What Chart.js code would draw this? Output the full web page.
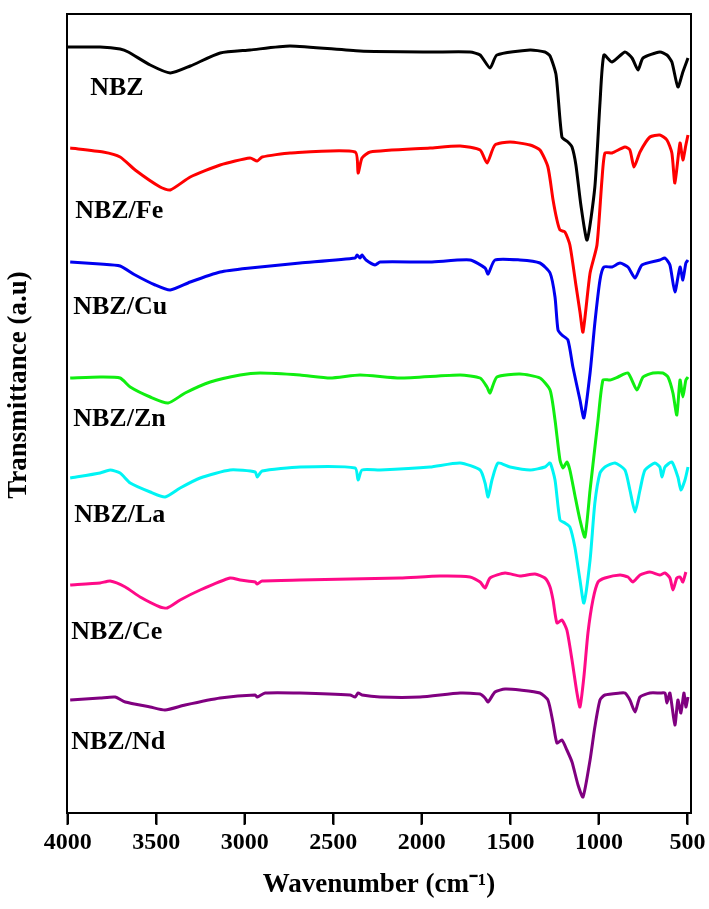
<!DOCTYPE html>
<html><head><meta charset="utf-8">
<script src="https://cdn.jsdelivr.net/npm/chart.js@4.4.1/dist/chart.umd.min.js"></script>
<style>html,body{margin:0;padding:0;background:#fff}#wrap{width:709px;height:909px;position:relative}</style>
</head><body><div id="wrap"><canvas id="c"></canvas></div>
<script>
// Wavenumber tick labels (cm-1)
const xTicks = [4000, 3500, 3000, 2500, 2000, 1500, 1000, 500];
const seriesNames = ['NBZ', 'NBZ/Fe', 'NBZ/Cu', 'NBZ/Zn', 'NBZ/La', 'NBZ/Ce', 'NBZ/Nd'];

// [wavenumber, transmittance (offset, a.u.)]
const nbz = [[4000,766],[3817,766],[3704,764],[3658,761],[3534,748],[3421,740],[3308,747],[3139,760],[2970,763],[2744,767],[2349,762],[1954,761],[1728,761],[1671,758],[1615,745],[1576,758],[1389,763],[1305,761],[1276,757],[1242,738],[1209,676],[1175,671],[1152,666],[1130,648],[1102,608],[1067,573],[1023,626],[994,710],[972,758],[926,751],[853,761],[813,755],[779,743],[751,755],[656,761],[616,758],[588,751],[554,726],[526,741],[497,755]];
const nbzFe = [[3986,665],[3800,661],[3704,656],[3619,643],[3478,626],[3421,623],[3308,636],[3139,648],[2970,655],[2930,652],[2902,656],[2744,660],[2377,661],[2360,640],[2338,655],[2292,661],[1954,665],[1784,667],[1671,663],[1632,650],[1587,668],[1502,671],[1389,668],[1333,663],[1288,646],[1259,613],[1237,593],[1220,583],[1192,581],[1164,568],[1130,528],[1107,501],[1090,481],[1050,540],[1011,568],[983,633],[966,660],[926,660],[853,666],[825,663],[802,646],[768,661],[712,676],[656,678],[616,673],[588,660],[571,630],[542,670],[526,653],[509,668],[497,678]];
const nbzCu = [[3986,551],[3817,549],[3704,547],[3619,538],[3506,528],[3421,523],[3308,531],[3139,541],[2970,545],[2744,549],[2688,550],[2377,555],[2366,558],[2349,555],[2338,558],[2315,553],[2264,548],[2236,551],[1954,551],[1728,553],[1643,545],[1626,539],[1587,553],[1446,553],[1333,550],[1276,540],[1248,516],[1231,483],[1209,478],[1175,473],[1147,446],[1107,413],[1085,395],[1050,440],[1023,490],[994,533],[972,546],[926,546],[881,550],[836,546],[796,535],[757,548],[656,553],[627,555],[599,548],[571,521],[542,546],[526,533],[509,550],[497,553]];
const nbzZn = [[3986,435],[3817,436],[3704,435],[3647,426],[3534,416],[3433,410],[3337,420],[3195,431],[3026,438],[2913,440],[2688,438],[2518,435],[2349,438],[2123,435],[1784,438],[1671,435],[1632,426],[1615,420],[1576,436],[1446,439],[1333,435],[1276,423],[1248,393],[1220,353],[1203,345],[1181,351],[1164,343],[1136,318],[1107,293],[1079,276],[1050,323],[1034,348],[1005,393],[977,433],[938,433],[892,436],[836,440],[785,423],[751,436],[695,440],[639,440],[610,436],[582,420],[560,398],[542,433],[526,416],[509,433],[497,436]];
const nbzLa = [[3986,335],[3817,340],[3760,343],[3704,340],[3647,330],[3534,321],[3450,316],[3365,325],[3252,335],[3083,343],[2941,341],[2930,336],[2902,342],[2688,346],[2377,345],[2360,333],[2338,343],[2236,343],[1954,346],[1784,350],[1671,343],[1643,330],[1626,316],[1604,333],[1570,350],[1502,346],[1389,343],[1305,346],[1276,350],[1248,333],[1220,293],[1192,290],[1164,286],[1136,266],[1107,233],[1085,210],[1050,253],[1023,310],[994,340],[966,346],[909,350],[853,343],[825,323],[796,301],[768,323],[740,343],[684,350],[656,346],[644,336],[627,346],[588,351],[554,336],[537,323],[514,333],[497,346]];
const nbzCe = [[3986,228],[3817,230],[3760,232],[3675,226],[3591,216],[3478,206],[3438,205],[3365,213],[3252,223],[3083,235],[3026,233],[2941,231],[2930,229],[2902,232],[2688,233],[2405,234],[2123,235],[1897,237],[1728,236],[1671,231],[1643,225],[1615,235],[1530,240],[1446,237],[1361,239],[1305,235],[1276,226],[1259,213],[1237,190],[1209,193],[1181,183],[1152,153],[1124,120],[1107,106],[1085,136],[1062,180],[1034,213],[1005,231],[966,235],[881,238],[836,236],[808,231],[768,238],[712,241],[656,238],[627,240],[599,235],[582,223],[560,235],[542,236],[526,231],[509,241]];
const nbzNd = [[3986,113],[3817,115],[3732,116],[3675,111],[3534,106],[3450,103],[3337,108],[3139,115],[2941,118],[2930,116],[2885,120],[2688,120],[2405,118],[2377,116],[2360,120],[2338,118],[2236,116],[2010,116],[1784,120],[1671,119],[1643,115],[1626,111],[1587,121],[1530,124],[1446,123],[1333,120],[1288,113],[1259,90],[1237,70],[1209,73],[1181,63],[1152,51],[1118,28],[1090,16],[1050,53],[1023,86],[994,113],[966,118],[881,120],[853,120],[825,113],[796,101],[768,116],[712,120],[656,120],[627,120],[616,110],[599,120],[571,88],[554,113],[537,100],[520,120],[509,106],[497,116]];

// Series label anchor positions (data units)
const labelWn = [3873, 3958, 3969, 3969, 3963, 3980, 3980];
const labelT = [725, 602, 506, 394, 298, 181, 71];

const allSeries = [nbz, nbzFe, nbzCu, nbzZn, nbzLa, nbzCe, nbzNd];
const colors = ['#000000', '#ff0000', '#0000f0', '#10ee10', '#00f4f4', '#ff0a88', '#800080'];
const SERIF = "'Liberation Serif','Times New Roman',serif";

const framePlugin = {
  id: 'frame',
  afterDatasetsDraw(chart) {
    const {ctx, chartArea: a, scales} = chart;
    ctx.save();
    ctx.strokeStyle = '#000';
    ctx.lineWidth = 2;
    ctx.strokeRect(a.left, a.top, a.right - a.left, a.bottom - a.top);
    ctx.beginPath();
    xTicks.forEach(v => {
      const px = Math.round(scales.x.getPixelForValue(v));
      ctx.moveTo(px, a.bottom);
      ctx.lineTo(px, a.bottom + 11);
    });
    ctx.stroke();
    ctx.fillStyle = '#000';
    ctx.font = "bold 26px " + SERIF;
    ctx.textAlign = 'left';
    ctx.textBaseline = 'middle';
    seriesNames.forEach((n, i) => {
      ctx.fillText(n, scales.x.getPixelForValue(labelWn[i]), scales.y.getPixelForValue(labelT[i]));
    });
    // y-axis title
    ctx.font = "bold 27px " + SERIF;
    ctx.textAlign = 'center';
    ctx.translate(19, 385);
    ctx.rotate(-Math.PI / 2);
    ctx.fillText('Transmittance (a.u)', 0, 0);
    ctx.restore();
  }
};

new Chart(document.getElementById('c'), {
  type: 'line',
  data: {
    datasets: allSeries.map((s, i) => ({
      label: seriesNames[i],
      data: s.map(p => ({x: p[0], y: p[1]})),
      borderColor: colors[i],
      borderWidth: 3,
      pointRadius: 0,
      tension: 0.2,
      fill: false
    }))
  },
  options: {
    responsive: true,
    maintainAspectRatio: false,
    animation: false,
    layout: {padding: {left: 0, right: 18, top: 14, bottom: 0}},
    plugins: {legend: {display: false}, tooltip: {enabled: false}},
    scales: {
      x: {
        type: 'linear',
        reverse: true,
        min: 480,
        max: 4004,
        afterBuildTicks: s => { s.ticks = xTicks.map(v => ({value: v})); },
        afterFit: s => { s.height = 96; s.paddingLeft = 0; s.paddingRight = 0; },
        grid: {display: true, drawOnChartArea: false, drawTicks: true, tickLength: 12, tickWidth: 2, tickColor: '#000', color: '#000'},
        border: {display: false},
        ticks: {color: '#000', padding: 3, maxRotation: 0, autoSkip: false, callback: v => String(v), font: {family: SERIF, size: 24, weight: 'bold'}},
        title: {display: true, text: 'Wavenumber (cm⁻¹)', color: '#000', padding: {top: 0, bottom: 8}, font: {family: SERIF, size: 27, weight: 'bold'}}
      },
      y: {
        type: 'linear',
        min: 0,
        max: 799,
        afterFit: s => { s.width = 67; },
        grid: {display: false},
        border: {display: false},
        ticks: {display: false},
        title: {display: false}
      }
    }
  },
  plugins: [framePlugin]
});
</script>
</body></html>
